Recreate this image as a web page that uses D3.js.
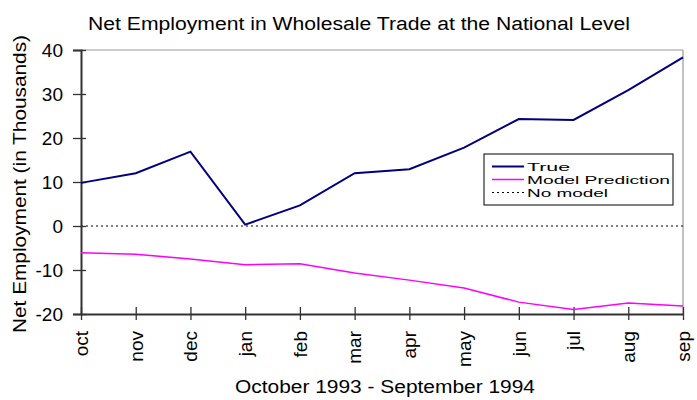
<!DOCTYPE html>
<html>
<head>
<meta charset="utf-8">
<script src="https://cdn.jsdelivr.net/npm/d3@7"></script>
<style>
  body { margin: 0; background: #fff; }
  svg { display: block; font-family: "Liberation Sans", Arial, sans-serif; }
</style>
</head>
<body>
<svg id="chart" width="697" height="400"></svg>
<script>
// data
var months = ["oct", "nov", "dec", "jan", "feb", "mar", "apr", "may", "jun", "jul", "aug", "sep"];
var trueVals = [9.8, 12.0, 16.9, 0.3, 4.7, 12.0, 12.9, 17.8, 24.3, 24.1, 30.9, 38.3];
var modelVals = [-6.1, -6.4, -7.5, -8.8, -8.6, -10.7, -12.3, -14.1, -17.3, -19.0, -17.5, -18.2];
var yTicks = [-20, -10, 0, 10, 20, 30, 40];

var svg = d3.select("#chart"),
  margin = {top: 50, right: 14, bottom: 86, left: 81},
  width = 697 - margin.left - margin.right,
  height = 400 - margin.top - margin.bottom;

var x = d3.scalePoint().domain(months).range([0, width]);
var y = d3.scaleLinear().domain([-20, 40]).range([height, 0]);

var g = svg.append("g").attr("transform", "translate(" + margin.left + "," + margin.top + ")");

// frame: top and right in light grey
g.append("line").attr("x1", 0).attr("x2", width).attr("y1", 0).attr("y2", 0)
  .attr("stroke", "#999").attr("stroke-width", 1.2);
g.append("line").attr("x1", width).attr("x2", width).attr("y1", 0).attr("y2", height)
  .attr("stroke", "#999").attr("stroke-width", 1.2);

// zero line ("No model")
g.append("line")
  .attr("x1", 0).attr("x2", width)
  .attr("y1", y(0)).attr("y2", y(0))
  .attr("stroke", "#000").attr("stroke-width", 1)
  .attr("stroke-dasharray", "2,3");

// y axis
var yAxis = g.append("g")
  .call(d3.axisLeft(y).tickValues(yTicks).tickSize(8).tickPadding(10)
    .tickFormat(function(d) { return String(d); }));
yAxis.select(".domain").attr("stroke", "#333").attr("stroke-width", 2);
yAxis.selectAll(".tick line").attr("stroke", "#333").attr("stroke-width", 1.3).attr("x2", -8).attr("x1", 5);
yAxis.selectAll(".tick text").attr("font-size", 19).attr("fill", "#000")
  .attr("font-family", "Liberation Sans, Arial, sans-serif").attr("dy", "0.36em");

// x axis
var xAxis = g.append("g").attr("transform", "translate(0," + height + ")")
  .call(d3.axisBottom(x).tickSize(6).tickSizeOuter(0));
xAxis.select(".domain").attr("stroke", "#333").attr("stroke-width", 2);
xAxis.selectAll(".tick line").attr("stroke", "#333").attr("stroke-width", 1.3).attr("y1", -7).attr("y2", 6);
xAxis.selectAll(".tick text")
  .attr("font-size", 19).attr("fill", "#000")
  .attr("font-family", "Liberation Sans, Arial, sans-serif")
  .attr("transform", "rotate(-90)")
  .attr("text-anchor", "end")
  .attr("x", -17).attr("y", 0).attr("dy", "0.33em");

// series
var line = d3.line()
  .x(function(d, i) { return x(months[i]); })
  .y(function(d) { return y(d); });

g.append("path").datum(modelVals)
  .attr("d", line).attr("fill", "none")
  .attr("stroke", "#ff00ff").attr("stroke-width", 1.5);

g.append("path").datum(trueVals)
  .attr("d", line).attr("fill", "none")
  .attr("stroke", "#000080").attr("stroke-width", 2);

// legend
var legend = svg.append("g").attr("transform", "translate(484,154)");
legend.append("rect").attr("width", 189).attr("height", 51)
  .attr("fill", "#fff").attr("stroke", "#000").attr("stroke-width", 1);
var legendItems = [
  {label: "True", color: "#000080", width: 2, dash: null, len: 43},
  {label: "Model Prediction", color: "#ff00ff", width: 1.5, dash: null, len: 143},
  {label: "No model", color: "#000", width: 1, dash: "2,3", len: 81}
];
legendItems.forEach(function(d, i) {
  var cy = 12.5 + i * 13;
  legend.append("line").attr("x1", 8).attr("x2", 40).attr("y1", cy).attr("y2", cy)
    .attr("stroke", d.color).attr("stroke-width", d.width)
    .attr("stroke-dasharray", d.dash);
  legend.append("text").attr("x", 43).attr("y", cy + 4)
    .attr("font-size", 11)
    .attr("textLength", d.len).attr("lengthAdjust", "spacingAndGlyphs")
    .text(d.label);
});

// title and axis labels
svg.append("text").attr("x", 88).attr("y", 30)
  .attr("font-size", 18)
  .attr("textLength", 542).attr("lengthAdjust", "spacingAndGlyphs")
  .text("Net Employment in Wholesale Trade at the National Level");

svg.append("text").attr("x", 385).attr("y", 393)
  .attr("text-anchor", "middle").attr("font-size", 18)
  .attr("textLength", 300).attr("lengthAdjust", "spacingAndGlyphs")
  .text("October 1993 - September 1994");

svg.append("text")
  .attr("transform", "translate(26,184) rotate(-90)")
  .attr("text-anchor", "middle").attr("font-size", 19)
  .attr("textLength", 298).attr("lengthAdjust", "spacingAndGlyphs")
  .text("Net Employment (in Thousands)");
</script>
</body>
</html>
